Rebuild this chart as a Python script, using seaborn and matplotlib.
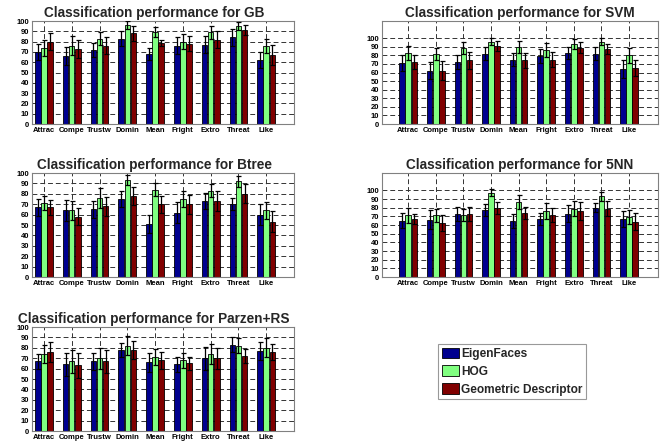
import numpy as np
import pandas as pd
import matplotlib
matplotlib.use("Agg")
import matplotlib.pyplot as plt
import seaborn as sns
from matplotlib.patches import Patch

categories = ["Attrac", "Compe", "Trustw", "Domin", "Mean", "Fright", "Extro", "Threat", "Like"]
methods = ["EigenFaces", "HOG", "Geometric Descriptor"]
colors = ["#00008F", "#80FF80", "#800000"]
yticks = list(range(0, 101, 10))

# GB
gb_eig = [70, 66, 72, 83, 68, 76, 77, 84, 62]
gb_hog = [74, 76, 83, 96, 89, 80, 89, 95, 76]
gb_geo = [80, 73, 76, 88, 79, 78, 82, 91, 67]
gb_eig_err = [8, 9, 7, 7, 6, 8, 8, 8, 8]
gb_hog_err = [8, 9, 6, 4, 5, 7, 6, 4, 7]
gb_geo_err = [8, 9, 8, 7, 3, 7, 8, 5, 10]

# SVM
svm_eig = [71, 62, 72, 82, 75, 79, 83, 82, 64]
svm_hog = [83, 82, 88, 96, 90, 86, 93, 96, 80]
svm_geo = [72, 62, 74, 91, 74, 75, 89, 87, 65]
svm_eig_err = [9, 10, 8, 8, 8, 8, 7, 8, 10]
svm_hog_err = [8, 7, 7, 4, 7, 8, 6, 4, 9]
svm_geo_err = [8, 11, 10, 6, 9, 9, 6, 6, 9]

# Btree
bt_eig = [67, 64, 65, 75, 51, 62, 73, 70, 60]
bt_hog = [71, 64, 76, 93, 84, 75, 83, 92, 64]
bt_geo = [67, 58, 68, 78, 70, 70, 73, 80, 53]
bt_eig_err = [8, 10, 8, 8, 9, 10, 8, 6, 10]
bt_hog_err = [7, 9, 10, 5, 6, 8, 6, 5, 8]
bt_geo_err = [7, 8, 9, 9, 8, 9, 10, 9, 10]

# 5NN
nn_eig = [65, 66, 73, 77, 65, 67, 73, 80, 67]
nn_hog = [71, 71, 72, 97, 87, 76, 79, 93, 69]
nn_geo = [67, 62, 73, 80, 74, 72, 76, 79, 64]
nn_eig_err = [9, 11, 8, 7, 8, 7, 10, 5, 9]
nn_hog_err = [9, 8, 7, 4, 8, 9, 9, 5, 8]
nn_geo_err = [6, 9, 8, 7, 7, 8, 10, 9, 10]

# Parzen+RS
pz_eig = [67, 64, 67, 78, 66, 64, 70, 83, 77]
pz_hog = [74, 67, 70, 82, 71, 68, 74, 82, 80]
pz_geo = [76, 63, 67, 78, 68, 65, 70, 72, 76]
pz_eig_err = [7, 11, 8, 7, 9, 7, 11, 7, 9]
pz_hog_err = [9, 11, 10, 9, 8, 7, 10, 7, 9]
pz_geo_err = [10, 12, 11, 9, 8, 6, 10, 7, 8]

sns.set_style("white")
plt.rcParams["font.family"] = ["Liberation Sans", "DejaVu Sans"]

fig = plt.figure(figsize=(6.62, 4.44), dpi=100)

def rect(left, top, right, bottom):
    W, H = 662.0, 444.0
    return [left / W, 1 - bottom / H, (right - left) / W, (bottom - top) / H]

def panel(pos, title, means, errs, ymax, xlim, title_x):
    ax = fig.add_axes(pos)
    df = pd.DataFrame({
        "category": np.tile(categories, len(methods)),
        "method": np.repeat(methods, len(categories)),
        "value": np.concatenate(means),
    })
    sns.barplot(data=df, x="category", y="value", hue="method",
                order=categories, hue_order=methods, palette=colors,
                saturation=1, width=0.66, gap=0.1, errorbar=None,
                edgecolor="black", linewidth=0.6, legend=False, ax=ax)
    # error bars from the bar geometry
    bars = sorted(ax.patches, key=lambda p: p.get_x())
    xs = [p.get_x() + p.get_width() / 2 for p in bars]
    hs = [p.get_height() for p in bars]
    err_flat = []
    for i in range(len(categories)):
        for j in range(len(methods)):
            err_flat.append(errs[j][i])
    ax.errorbar(xs, hs, yerr=err_flat, fmt="none", ecolor="black",
                elinewidth=0.9, capsize=1.8, capthick=0.9, zorder=5)
    ax.set_ylim(0, ymax)
    ax.set_xlim(*xlim)
    ax.set_yticks(yticks)
    ax.set_yticklabels([str(t) for t in yticks], fontsize=5.5, fontweight="bold")
    ax.set_xticks(range(len(categories)))
    ax.set_xticklabels(categories, fontsize=5.5, fontweight="bold")
    ax.set_xlabel("")
    ax.set_ylabel("")
    ax.grid(True, linestyle=(0, (5, 3)), color="#333333", linewidth=0.7)
    ax.set_axisbelow(True)
    ax.tick_params(length=2, direction="in", pad=2, colors="black")
    for s in ax.spines.values():
        s.set_color("#808080")
        s.set_linewidth(0.8)
    ax.set_title(title, fontsize=9.8, fontweight="bold", pad=3, x=title_x)
    return ax

left_xlim = (-0.43, 9.0)
right_xlim = (-0.95, 9.05)

panel(rect(32, 21, 294, 124), "Classification performance for GB",
      [gb_eig, gb_hog, gb_geo], [gb_eig_err, gb_hog_err, gb_geo_err], 100, left_xlim, 0.466)
panel(rect(382, 21, 658, 124), "Classification performance for SVM",
      [svm_eig, svm_hog, svm_geo], [svm_eig_err, svm_hog_err, svm_geo_err], 120, right_xlim, 0.5)
panel(rect(32, 173, 294, 277), "Classification performance for Btree",
      [bt_eig, bt_hog, bt_geo], [bt_eig_err, bt_hog_err, bt_geo_err], 100, left_xlim, 0.466)
panel(rect(382, 173, 658, 277), "Classification performance for 5NN",
      [nn_eig, nn_hog, nn_geo], [nn_eig_err, nn_hog_err, nn_geo_err], 120, right_xlim, 0.5)
panel(rect(32, 327, 294, 431), "Classification performance for Parzen+RS",
      [pz_eig, pz_hog, pz_geo], [pz_eig_err, pz_hog_err, pz_geo_err], 100, left_xlim, 0.466)

handles = [Patch(facecolor=c, edgecolor="black", linewidth=0.6) for c in colors]
leg = fig.legend(handles, methods, loc="upper left",
                 bbox_to_anchor=(438 / 662, 1 - 344 / 444),
                 fontsize=8.6, frameon=True, fancybox=False,
                 handlelength=1.45, handleheight=1.0, handletextpad=0.2,
                 labelspacing=0.45, borderpad=0.3, borderaxespad=0)
leg.get_frame().set_edgecolor("#808080")
leg.get_frame().set_linewidth(0.8)
for t in leg.get_texts():
    t.set_fontweight("bold")

fig.savefig("out.png", dpi=100)
